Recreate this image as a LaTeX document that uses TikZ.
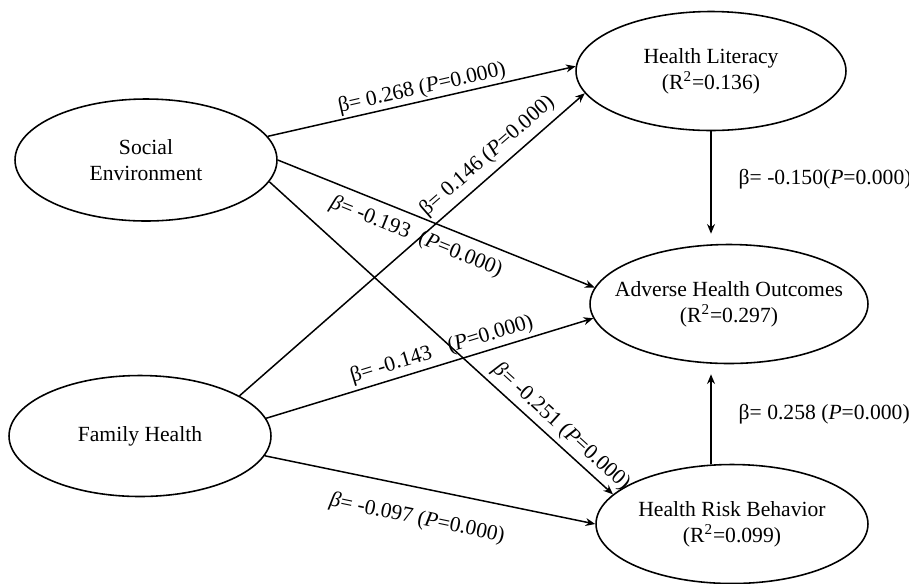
\documentclass[tikz,border=0pt]{standalone}
\usepackage{fontspec}
\setmainfont{Liberation Serif}
\usetikzlibrary{shapes.geometric,arrows.meta}

\begin{document}
\begin{tikzpicture}[x=0.02cm,y=-0.02cm,
	every node/.style={font=\fontsize{12.3}{15}\selectfont},
	var/.style={draw,line width=0.9pt,ellipse,align=center,inner xsep=-8mm,inner ysep=0pt,minimum height=2.38cm},
	path/.style={->,line width=0.85pt},
	coef/.style={sloped,inner sep=1pt},
	> = {Stealth[length=5.5pt,width=4.5pt]}]
				\useasboundingbox (0,0) rectangle (909,583);
				\node[var,minimum width=5.24cm,minimum height=2.44cm] (se) at (146,160) {Social\\Environment};
				\node[var,minimum width=5.24cm,minimum height=2.42cm] (fh) at (140,436) {Family Health};
				\node[var,minimum width=5.4cm] (hl) at (711,71) {Health Literacy\\(R\textsuperscript{2}=0.136)};
				\node[var,minimum width=5.56cm] (aho) at (729,304) {Adverse Health Outcomes\\(R\textsuperscript{2}=0.297)};
				\node[var,minimum width=5.44cm] (hrb) at (732,524) {Health Risk Behavior\\(R\textsuperscript{2}=0.099)};

				\draw[path] (se.11) -- node[coef,pos=0.51,above] (b1) {β= 0.268 (\textit{P}=0.000)} (hl.178);
				\draw[path] (fh.22) -- node[coef,pos=0.75,above=2.5pt] (b2) {β= 0.146 (\textit{P}=0.000)} (hl.190);
				\draw[path] (se.0) -- node[coef,pos=0.46,below=4pt] (b3) {\textit{β}= -0.193\hspace{0.5em}(\textit{P}=0.000)} (aho.173);
				\draw[path] (se.-10) -- node[coef,pos=0.82,above=1.5pt] (b4) {\textit{β}= -0.251 (\textit{P}=0.000)} (hrb.166);
				\draw[path] (fh.8) -- node[coef,pos=0.55,above=1pt] (b5) {β= -0.143\hspace{0.8em}(\textit{P}=0.000)} (aho.186);
				\draw[path] (fh.-9) -- node[coef,pos=0.48,below=10.5pt] (b6) {\textit{β}= -0.097 (\textit{P}=0.000)} (hrb.180);
				\draw[path,shorten >=2mm] (hl.south) -- node[pos=0.43,right=12pt] (b7) {β= -0.150(\textit{P}=0.000)} (hl.south |- aho.north);
				\draw[path,shorten >=2mm] (hrb.north -| hl.south) -- node[midway,right=12pt] (b8) {β= 0.258 (\textit{P}=0.000)} (hl.south |- aho.south);

			\end{tikzpicture}
\end{document}
